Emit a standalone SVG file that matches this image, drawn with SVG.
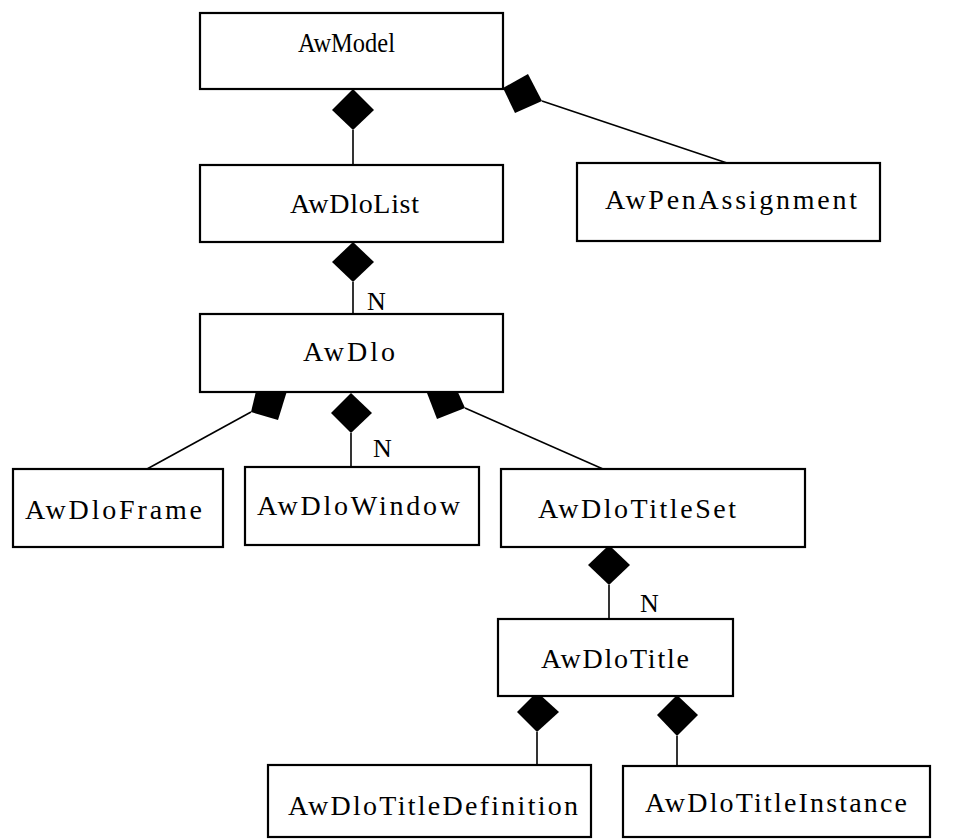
<svg xmlns="http://www.w3.org/2000/svg" width="969" height="839" viewBox="0 0 969 839">
<style>
  .box { fill: #fff; stroke: #000; stroke-width: 2.2; }
  .lbl { font-family: "Liberation Serif", "Times New Roman", serif; font-size: 28px; fill: #000; }
  .card { font-family: "Liberation Serif", "Times New Roman", serif; font-size: 26px; fill: #000; }
  .conn line { stroke: #000; stroke-width: 1.6; }
  .conn polygon { fill: #000; stroke: none; }
</style>
<rect width="969" height="839" fill="#fff"/>
<g id="connectors" class="conn">
  <line x1="353" y1="130" x2="353" y2="165"/>
  <polygon points="353,89 374,110 353,130 332,110"/>
  <line x1="542" y1="101" x2="727" y2="163"/>
  <polygon points="503,88 528,74 542,101 515,113"/>
  <line x1="353" y1="282" x2="353" y2="314"/>
  <polygon points="353,242 374,262 353,282 332,262"/>
  <line x1="251" y1="412" x2="147" y2="469"/>
  <polygon points="287,391 258,383 251,412 278,420"/>
  <line x1="351" y1="433" x2="351" y2="467"/>
  <polygon points="351,393 372,413 351,433 331,413"/>
  <line x1="465" y1="408" x2="603" y2="469"/>
  <polygon points="427,393 453,381 465,408 437,419"/>
  <line x1="609" y1="585" x2="609" y2="619"/>
  <polygon points="609,545 630,565 609,585 588,565"/>
  <line x1="537" y1="732" x2="537" y2="765"/>
  <polygon points="537,692 559,712 537,732 517,712"/>
  <line x1="677" y1="736" x2="677" y2="766"/>
  <polygon points="677,695 698,715 677,736 657,715"/>
  <text class="card" x="367" y="310">N</text>
  <text class="card" x="373" y="457">N</text>
  <text class="card" x="640" y="612">N</text>
</g>
<g id="AwModel">
  <rect class="box" x="200" y="13" width="303" height="76"/>
  <text class="lbl" x="298" y="52" textLength="97" lengthAdjust="spacingAndGlyphs">AwModel</text>
</g>
<g id="AwDloList">
  <rect class="box" x="200" y="165" width="303" height="77"/>
  <text class="lbl" x="290" y="213" textLength="129" lengthAdjust="spacing">AwDloList</text>
</g>
<g id="AwPenAssignment">
  <rect class="box" x="577" y="163" width="303" height="78"/>
  <text class="lbl" x="605" y="209" textLength="252" lengthAdjust="spacing">AwPenAssignment</text>
</g>
<g id="AwDlo">
  <rect class="box" x="200" y="314" width="303" height="78"/>
  <text class="lbl" x="303" y="361" textLength="92" lengthAdjust="spacing">AwDlo</text>
</g>
<g id="AwDloFrame">
  <rect class="box" x="13" y="469" width="210" height="78"/>
  <text class="lbl" x="25" y="519" textLength="177" lengthAdjust="spacing">AwDloFrame</text>
</g>
<g id="AwDloWindow">
  <rect class="box" x="245" y="467" width="234" height="78"/>
  <text class="lbl" x="257" y="515" textLength="203" lengthAdjust="spacing">AwDloWindow</text>
</g>
<g id="AwDloTitleSet">
  <rect class="box" x="501" y="469" width="304" height="78"/>
  <text class="lbl" x="538" y="518" textLength="198" lengthAdjust="spacing">AwDloTitleSet</text>
</g>
<g id="AwDloTitle">
  <rect class="box" x="498" y="619" width="235" height="77"/>
  <text class="lbl" x="541" y="668" textLength="148" lengthAdjust="spacing">AwDloTitle</text>
</g>
<g id="AwDloTitleDefinition">
  <rect class="box" x="268" y="765" width="323" height="72"/>
  <text class="lbl" x="288" y="815" textLength="290" lengthAdjust="spacing">AwDloTitleDefinition</text>
</g>
<g id="AwDloTitleInstance">
  <rect class="box" x="623" y="766" width="307" height="71"/>
  <text class="lbl" x="645" y="812" textLength="262" lengthAdjust="spacing">AwDloTitleInstance</text>
</g>
</svg>
